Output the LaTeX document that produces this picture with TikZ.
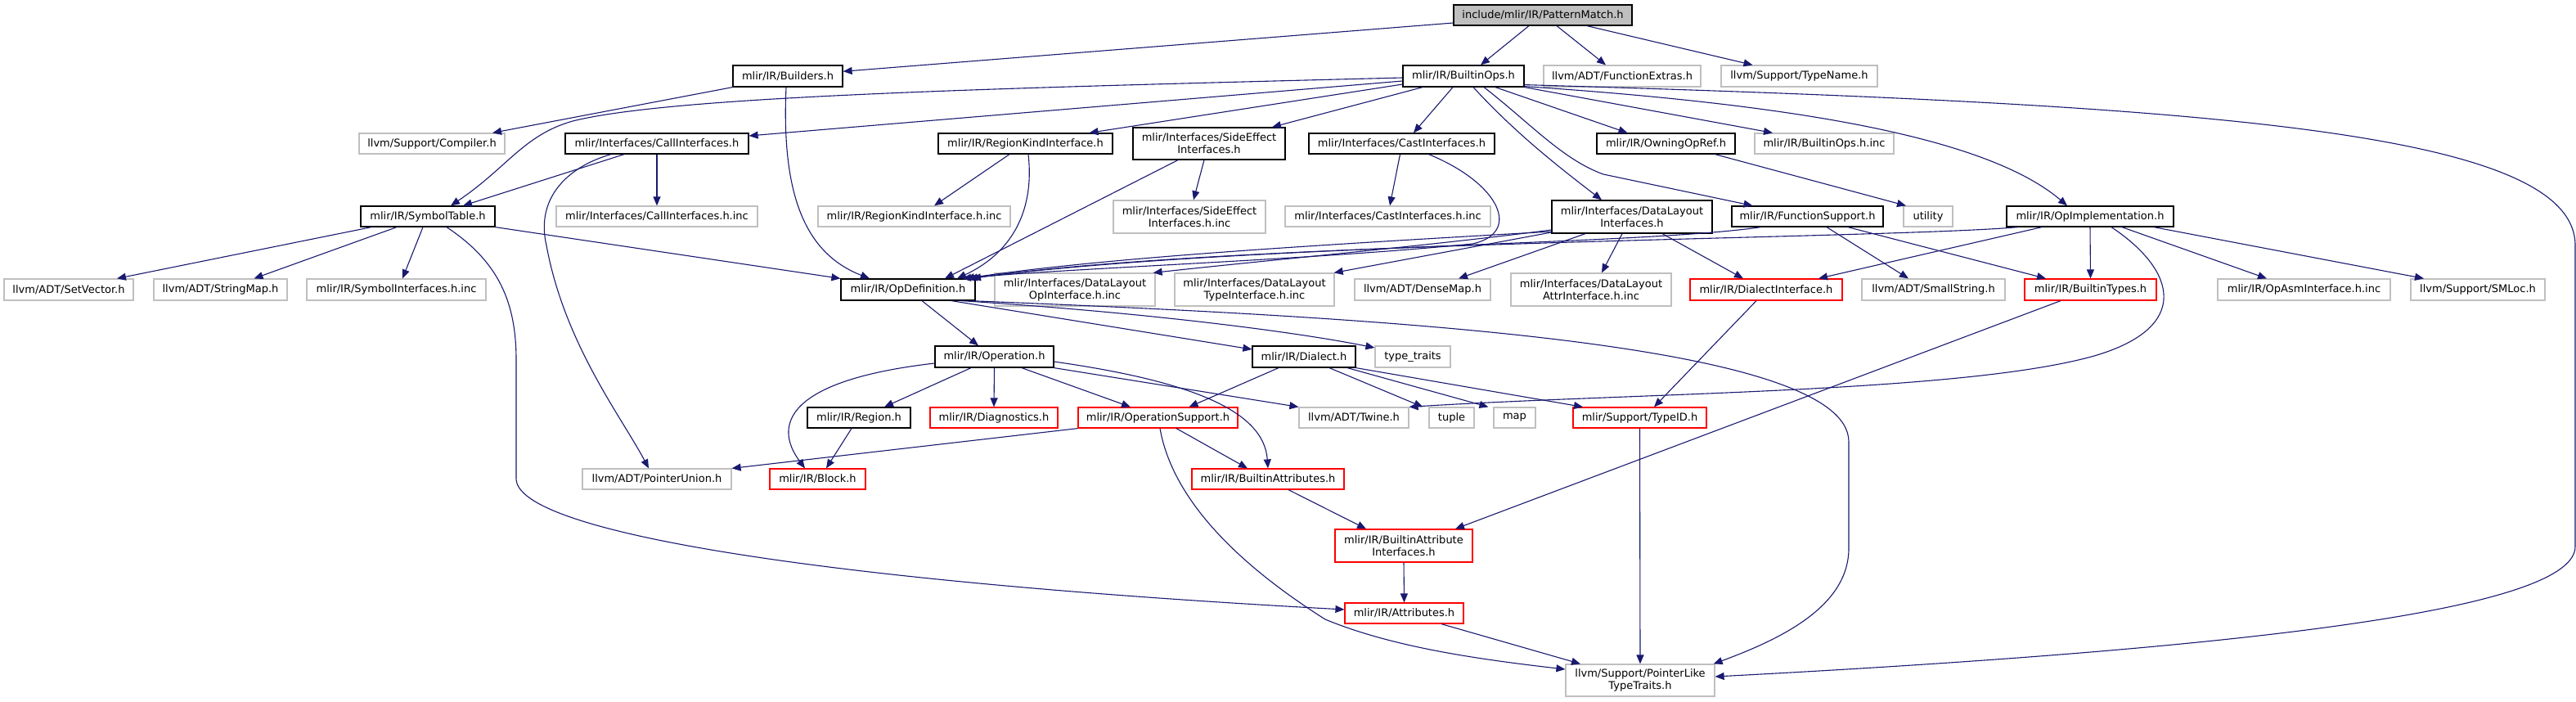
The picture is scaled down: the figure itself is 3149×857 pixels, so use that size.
\documentclass[tikz,border=0pt]{standalone}
\usepackage{fontspec}
\setmainfont{DejaVu Sans}
\usetikzlibrary{arrows.meta}
\definecolor{grey75}{HTML}{BFBFBF}
\definecolor{edgec}{HTML}{191970}
\newcommand\fs{\fontsize{13}{15}\selectfont}
\newcommand\gn[7]{\node[#2, minimum width={(#5)-(#3)}, minimum height={(#6)-(#4)}] (#1) at ({((#3)+(#5))/2},{((#4)+(#6))/2}) {#7};}
\begin{document}
\begin{tikzpicture}[x=1pt,y=-1pt,
  box/.style={draw, rectangle, inner sep=0pt, line width=1.2pt, align=center, font=\fs, text=black},
  nrm/.style={box, draw=black},
  ext/.style={box, draw=grey75},
  trc/.style={box, draw=red},
  root/.style={box, draw=black, fill=grey75},
  e/.style={draw=edgec, line width=1.1pt, -{Triangle[length=11pt,width=9pt]}}]
\useasboundingbox (0,0) rectangle (3149,857);
% nodes
\gn{pm}{root}{1777}{6}{1995}{31}{include/mlir/IR/PatternMatch.h}
\gn{builders}{nrm}{896}{80}{1030}{106}{mlir/IR/Builders.h}
\gn{builtinops}{nrm}{1715}{80}{1863}{106}{mlir/IR/BuiltinOps.h}
\gn{funcextras}{ext}{1887}{80}{2079}{106}{llvm/ADT/FunctionExtras.h}
\gn{typename}{ext}{2104}{80}{2295}{106}{llvm/Support/TypeName.h}
\gn{compiler}{ext}{439}{163}{617}{188}{llvm/Support/Compiler.h}
\gn{callif}{nrm}{691}{163}{915}{188}{mlir/Interfaces/CallInterfaces.h}
\gn{regionkind}{nrm}{1147}{163}{1360}{188}{mlir/IR/RegionKindInterface.h}
\gn{sideeffect}{nrm}{1385}{156}{1571}{195}{mlir/Interfaces/SideEffect\\Interfaces.h}
\gn{castif}{nrm}{1600}{163}{1827}{188}{mlir/Interfaces/CastInterfaces.h}
\gn{owning}{nrm}{1952}{163}{2121}{188}{mlir/IR/OwningOpRef.h}
\gn{builtinopsinc}{ext}{2145}{163}{2315}{188}{mlir/IR/BuiltinOps.h.inc}
\gn{symtab}{nrm}{441}{252}{605}{277}{mlir/IR/SymbolTable.h}
\gn{callifinc}{ext}{680}{252}{926}{277}{mlir/Interfaces/CallInterfaces.h.inc}
\gn{regionkindinc}{ext}{1000}{252}{1235}{277}{mlir/IR/RegionKindInterface.h.inc}
\gn{sideeffectinc}{ext}{1361}{245}{1547}{285}{mlir/Interfaces/SideEffect\\Interfaces.h.inc}
\gn{castifinc}{ext}{1571}{252}{1822}{277}{mlir/Interfaces/CastInterfaces.h.inc}
\gn{datalayout}{nrm}{1897}{245}{2093}{285}{mlir/Interfaces/DataLayout\\Interfaces.h}
\gn{funcsupport}{nrm}{2117}{252}{2302}{277}{mlir/IR/FunctionSupport.h}
\gn{utility}{ext}{2327}{252}{2387}{277}{utility}
\gn{opimpl}{nrm}{2453}{252}{2657}{277}{mlir/IR/OpImplementation.h}
\gn{setvector}{ext}{5}{341}{163}{367}{llvm/ADT/SetVector.h}
\gn{stringmap}{ext}{188}{341}{351}{367}{llvm/ADT/StringMap.h}
\gn{symifinc}{ext}{375}{341}{594}{367}{mlir/IR/SymbolInterfaces.h.inc}
\gn{opdef}{nrm}{1028}{341}{1192}{367}{mlir/IR/OpDefinition.h}
\gn{dlopinc}{ext}{1216}{334}{1412}{374}{mlir/Interfaces/DataLayout\\OpInterface.h.inc}
\gn{dltypeinc}{ext}{1436}{334}{1631}{374}{mlir/Interfaces/DataLayout\\TypeInterface.h.inc}
\gn{densemap}{ext}{1656}{341}{1822}{367}{llvm/ADT/DenseMap.h}
\gn{dlattrinc}{ext}{1847}{334}{2043}{374}{mlir/Interfaces/DataLayout\\AttrInterface.h.inc}
\gn{dialectif}{trc}{2066}{341}{2252}{367}{mlir/IR/DialectInterface.h}
\gn{smallstring}{ext}{2276}{341}{2451}{367}{llvm/ADT/SmallString.h}
\gn{builtintypes}{trc}{2475}{341}{2636}{367}{mlir/IR/BuiltinTypes.h}
\gn{opasm}{ext}{2711}{341}{2922}{367}{mlir/IR/OpAsmInterface.h.inc}
\gn{smloc}{ext}{2947}{341}{3111}{367}{llvm/Support/SMLoc.h}
\gn{operation}{nrm}{1143}{423}{1288}{449}{mlir/IR/Operation.h}
\gn{dialect}{nrm}{1531}{423}{1657}{449}{mlir/IR/Dialect.h}
\gn{typetraits}{ext}{1681}{423}{1773}{449}{type\_traits}
\gn{region}{nrm}{987}{498}{1113}{523}{mlir/IR/Region.h}
\gn{diagnostics}{trc}{1137}{498}{1293}{523}{mlir/IR/Diagnostics.h}
\gn{opsupport}{trc}{1318}{498}{1513}{523}{mlir/IR/OperationSupport.h}
\gn{twine}{ext}{1588}{498}{1722}{523}{llvm/ADT/Twine.h}
\gn{tuple}{ext}{1747}{498}{1802}{523}{tuple}
\gn{map}{ext}{1826}{498}{1877}{523}{map}
\gn{typeid}{trc}{1923}{498}{2086}{523}{mlir/Support/TypeID.h}
\gn{pointerunion}{ext}{712}{573}{894}{598}{llvm/ADT/PointerUnion.h}
\gn{block}{trc}{941}{573}{1058}{598}{mlir/IR/Block.h}
\gn{builtinattrs}{trc}{1457}{573}{1643}{598}{mlir/IR/BuiltinAttributes.h}
\gn{bai}{trc}{1632}{647}{1800}{687}{mlir/IR/BuiltinAttribute\\Interfaces.h}
\gn{attributes}{trc}{1644}{737}{1789}{762}{mlir/IR/Attributes.h}
\gn{pointerlike}{ext}{1914}{812}{2096}{851}{llvm/Support/PointerLike\\TypeTraits.h}
% edges
\draw[e] ([yshift=-9.5]pm.west) -- ([yshift=5.7]builders.east);
\draw[e] ([xshift=-17]pm.south) -- ([xshift=21]builtinops.north);
\draw[e] ([xshift=17]pm.south) -- ([xshift=-20]funcextras.north);
\draw[e] ([xshift=54]pm.south) -- ([xshift=-57]typename.north);
\draw[e] (builders.south west) -- ([xshift=74]compiler.north);
\draw[e] ([xshift=-2]builders.south) .. controls (955,240) and (985,310) .. ([xshift=-47]opdef.north);
\draw[e] ([yshift=-2]builtinops.west) .. controls (1200,108) and (820,118) .. (700,148) .. controls (640,165) and (620,205) .. ([xshift=28]symtab.north);
\draw[e] ([yshift=-6]builtinops.west) -- ([yshift=9.5]callif.east);
\draw[e] ([yshift=-10]builtinops.west) -- ([xshift=78]regionkind.north);
\draw[e] ([xshift=-50]builtinops.south) -- ([xshift=77]sideeffect.north);
\draw[e] ([xshift=-13]builtinops.south) -- ([xshift=14.5]castif.north);
\draw[e] ([xshift=12]builtinops.south) .. controls (1850,160) and (1900,200) .. ([xshift=-37]datalayout.north);
\draw[e] ([xshift=25]builtinops.south) .. controls (1870,150) and (1910,195) .. (1960,213) -- ([xshift=-67]funcsupport.north);
\draw[e] ([xshift=39]builtinops.south) -- ([xshift=-47]owning.north);
\draw[e] (builtinops.south east) -- ([xshift=-63]builtinopsinc.north);
\draw[e] ([yshift=1]builtinops.south east) .. controls (2150,125) and (2420,160) .. ([xshift=-28]opimpl.north);
\draw[e] ([yshift=3]builtinops.south east) .. controls (2700,128) and (3148,160) .. (3148,300) -- (3148,668) .. controls (3148,740) and (2800,790) .. ([yshift=4.5]pointerlike.east);
\draw[e] ([xshift=-40]callif.south) -- ([xshift=43]symtab.north);
\draw[e] (callif.south) -- (callifinc.north);
\draw[e] ([xshift=-56]callif.south) .. controls (690,205) and (655,245) .. (668,300) .. controls (690,420) and (760,510) .. ([xshift=-10]pointerunion.north);
\draw[e] ([xshift=-19.5]regionkind.south) -- ([xshift=24.5]regionkindinc.north);
\draw[e] ([xshift=3.5]regionkind.south) .. controls (1265,260) and (1235,310) .. ([xshift=60]opdef.north);
\draw[e] ([xshift=-6]sideeffect.south) -- ([xshift=5]sideeffectinc.north);
\draw[e] ([xshift=-38]sideeffect.south) -- ([xshift=45]opdef.north);
\draw[e] ([xshift=-2]castif.south) -- ([xshift=2.5]castifinc.north);
\draw[e] ([xshift=33]castif.south) .. controls (1835,225) and (1860,285) .. (1800,298) .. controls (1600,318) and (1300,328) .. ([xshift=66]opdef.north);
\draw[e] ([yshift=-18]datalayout.west) .. controls (1600,300) and (1350,315) .. ([xshift=70]opdef.north);
\draw[e] ([xshift=-57]funcsupport.south) .. controls (2000,300) and (1500,300) .. ([xshift=74]opdef.north);
\draw[e] ([xshift=-88]opimpl.south) .. controls (2300,292) and (1500,295) .. ([xshift=78]opdef.north);
\draw[e] ([xshift=60]owning.south) -- ([xshift=-27]utility.north);
\draw[e] ([xshift=-69]symtab.south) -- ([xshift=59]setvector.north);
\draw[e] ([xshift=-38]symtab.south) -- ([xshift=41]stringmap.north);
\draw[e] ([xshift=-6]symtab.south) -- ([xshift=7.5]symifinc.north);
\draw[e] (symtab.south east) -- (opdef.north west);
\draw[e] ([xshift=23]symtab.south) .. controls (610,320) and (631,370) .. (631,440) -- (631,585) .. controls (631,650) and (1000,710) .. ([yshift=4.5]attributes.west);
\draw[e] ([yshift=-16]datalayout.west) .. controls (1750,300) and (1550,318) .. ([xshift=-3]dlopinc.north east);
\draw[e] ([yshift=-19]datalayout.west) -- ([xshift=-1]dltypeinc.north east);
\draw[e] ([xshift=-57]datalayout.south) -- ([xshift=44]densemap.north);
\draw[e] ([xshift=-12]datalayout.south) -- ([xshift=13]dlattrinc.north);
\draw[e] ([xshift=37]datalayout.south) -- ([xshift=-28]dialectif.north);
\draw[e] ([xshift=23.5]funcsupport.south) -- ([xshift=-30.5]smallstring.north);
\draw[e] ([xshift=49.5]funcsupport.south) -- ([xshift=-54.5]builtintypes.north);
\draw[e] ([xshift=-59]opimpl.south) -- ([xshift=64]dialectif.north);
\draw[e] (opimpl.south) -- (builtintypes.north);
\draw[e] ([xshift=39]opimpl.south) -- ([xshift=-45.5]opasm.north);
\draw[e] ([xshift=78]opimpl.south) -- ([xshift=-66]smloc.north);
\draw[e] ([xshift=26]opimpl.south) .. controls (2660,330) and (2680,400) .. (2560,435) .. controls (2400,480) and (2000,480) .. (twine.north east);
\draw[e] ([xshift=17]opdef.south) -- ([xshift=-19.5]operation.north);
\draw[e] ([xshift=53]opdef.south) -- ([yshift=9]dialect.west);
\draw[e] ([xshift=65]opdef.south) .. controls (1400,382) and (1580,405) .. ([yshift=11]typetraits.west);
\draw[e] ([xshift=75]opdef.south) .. controls (1700,388) and (2260,420) .. (2260,540) -- (2260,670) .. controls (2260,740) and (2180,780) .. ([xshift=-2]pointerlike.north east);
\draw[e] ([xshift=-28.5]operation.south) -- ([xshift=31]region.north);
\draw[e] (operation.south) -- (diagnostics.north);
\draw[e] ([xshift=33.5]operation.south) -- ([xshift=-33.5]opsupport.north);
\draw[e] ([yshift=-8]operation.west) .. controls (960,465) and (945,520) .. ([xshift=-15.5]block.north);
\draw[e] ([yshift=-6]operation.east) .. controls (1450,465) and (1545,500) .. (builtinattrs.north);
\draw[e] (operation.south east) -- (twine.north west);
\draw[e] ([xshift=-31]dialect.south) -- ([xshift=38]opsupport.north);
\draw[e] ([xshift=31]dialect.south) -- ([xshift=-7]tuple.north west);
\draw[e] ([xshift=53]dialect.south) -- ([xshift=-6]map.north west);
\draw[e] (dialect.south east) -- ([xshift=-69.5]typeid.north);
\draw[e] (opsupport.south west) -- (pointerunion.north east);
\draw[e] ([xshift=22.5]opsupport.south) -- ([xshift=-25]builtinattrs.north);
\draw[e] ([xshift=2.5]opsupport.south) .. controls (1435,620) and (1530,700) .. (1620,757) .. controls (1700,790) and (1800,805) .. ([yshift=13.5]pointerlike.west);
\draw[e] ([xshift=-9]region.south) -- ([xshift=10.5]block.north);
\draw[e] ([xshift=25]builtinattrs.south) -- ([xshift=-46]bai.north);
\draw[e] ([xshift=-12]dialectif.south) -- ([xshift=17.5]typeid.north);
\draw[e] ([xshift=-36.5]builtintypes.south) -- ([xshift=63]bai.north);
\draw[e] (bai.south) -- (attributes.north);
\draw[e] ([xshift=45.5]attributes.south) -- ([xshift=-73]pointerlike.north);
\draw[e] (typeid.south) -- (pointerlike.north);
\end{tikzpicture}
\end{document}
